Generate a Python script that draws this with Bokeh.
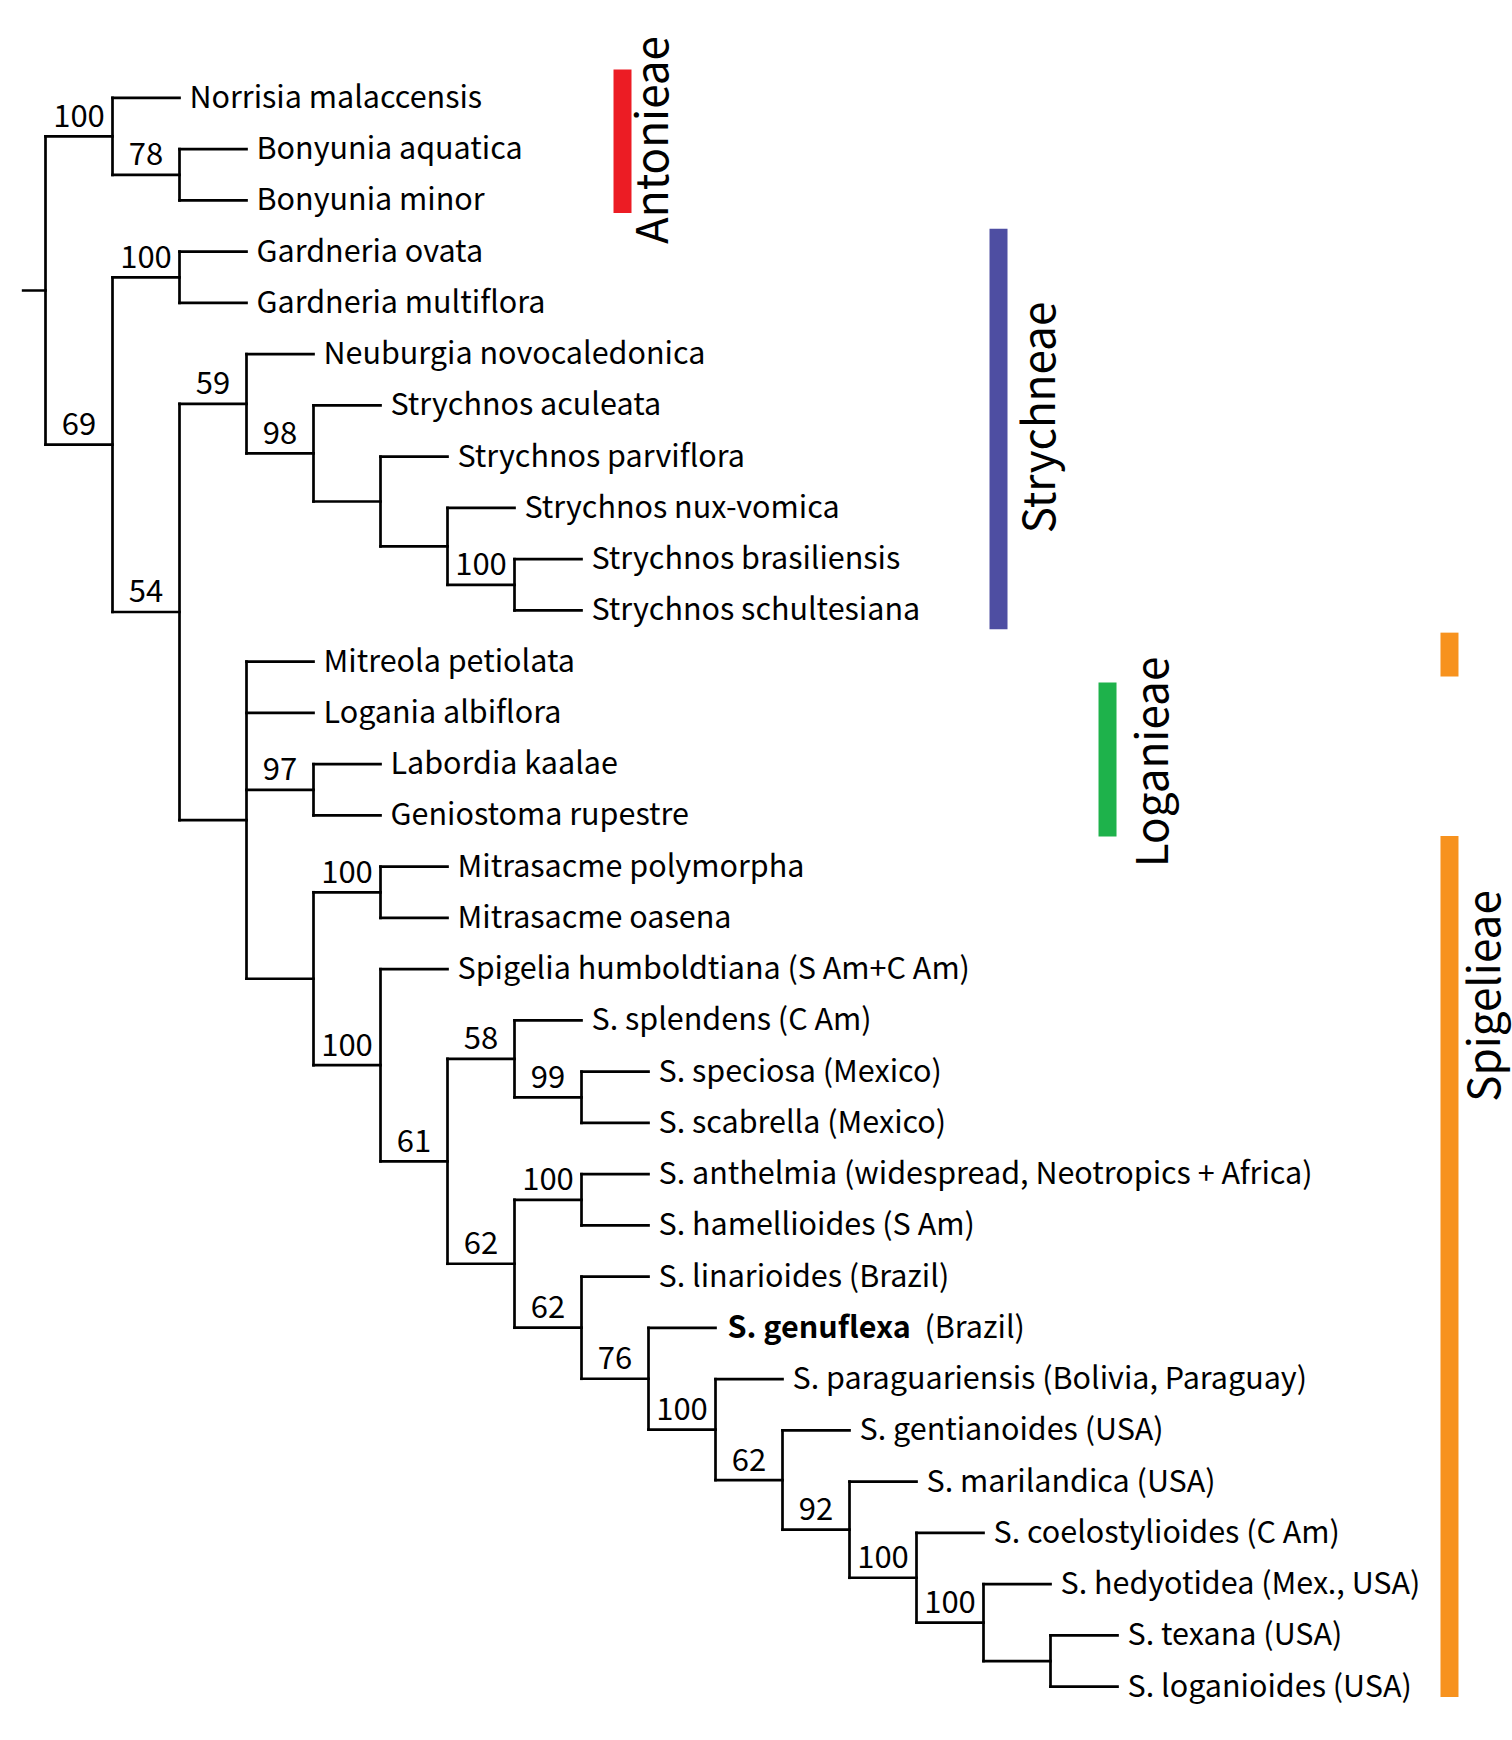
import math
from bokeh.plotting import figure
from bokeh.models import Range1d
from bokeh.core.properties import value
from bokeh.embed import file_html
from bokeh.resources import INLINE

# ---------------- data ----------------
TIPS = [
    "Norrisia malaccensis", "Bonyunia aquatica", "Bonyunia minor",
    "Gardneria ovata", "Gardneria multiflora",
    "Neuburgia novocaledonica", "Strychnos aculeata", "Strychnos parviflora",
    "Strychnos nux-vomica", "Strychnos brasiliensis", "Strychnos schultesiana",
    "Mitreola petiolata", "Logania albiflora", "Labordia kaalae", "Geniostoma rupestre",
    "Mitrasacme polymorpha", "Mitrasacme oasena",
    "Spigelia humboldtiana (S Am+C Am)", "S. splendens (C Am)", "S. speciosa (Mexico)",
    "S. scabrella (Mexico)", "S. anthelmia (widespread, Neotropics + Africa)",
    "S. hamellioides (S Am)", "S. linarioides (Brazil)", "S. genuflexa (Brazil)",
    "S. paraguariensis (Bolivia, Paraguay)", "S. gentianoides (USA)", "S. marilandica (USA)",
    "S. coelostylioides (C Am)", "S. hedyotidea (Mex., USA)", "S. texana (USA)",
    "S. loganioides (USA)",
]
HIGHLIGHT = "S. genuflexa"

# topology (tip indices) with bootstrap support after each clade
NEWICK = ("((0,(1,2)78)100,((3,4)100,((5,(6,(7,(8,(9,10)100)))98)59,"
          "(11,12,(13,14)97,((15,16)100,(17,((18,(19,20)99)58,((21,22)100,"
          "(23,(24,(25,(26,(27,(28,(29,(30,31))100)100)92)62)100)76)62)62)61)100)))54)69);")

TRIBE_NAMES = ["Antonieae", "Strychneae", "Loganieae", "Spigelieae"]
TRIBE_COLORS = ["#ec1c24", "#4e4ea2", "#1eb24b", "#f7921e"]
BAR_TRIBE = ["Antonieae", "Strychneae", "Loganieae", "Spigelieae", "Spigelieae"]
BAR_FIRST_TIP = [0, 3, 12, 11, 15]
BAR_LAST_TIP = [2, 10, 14, 11, 31]

# ---------------- layout / style ----------------
BAR_X = {"Antonieae": 8.612, "Strychneae": 14.224, "Loganieae": 15.851, "Spigelieae": 20.955}
BAR_PAD_TOP = [0.554, 0.449, 0.593, 0.566, 0.60]
BAR_PAD_BOTTOM = [0.246, 0.37, 0.41, 0.29, 0.20]
LABEL_DX = {"Antonieae": 0.393, "Strychneae": 0.557, "Loganieae": 0.616, "Spigelieae": 0.47}
LABEL_Y = {"Antonieae": 0.821, "Strychneae": 6.236, "Loganieae": 12.958, "Spigelieae": 17.524}

FONT = "Noto Sans CJK JP"
TIP_SIZE = "30.5px"
NUM_SIZE = "31px"
TRIBE_SIZE = "44px"


def parse(s):
    pos = 0

    def node():
        nonlocal pos
        if s[pos] == "(":
            pos += 1
            kids = [node()]
            while s[pos] == ",":
                pos += 1
                kids.append(node())
            pos += 1  # ')'
            lab = ""
            while pos < len(s) and s[pos] not in ",);":
                lab += s[pos]
                pos += 1
            return {"kids": kids, "support": lab}
        lab = ""
        while s[pos] not in ",);":
            lab += s[pos]
            pos += 1
        return {"tip": int(lab)}

    return node()


tree = parse(NEWICK)


def layout(n, depth):
    n["x"] = depth
    if "tip" in n:
        n["y"] = float(n["tip"])
    else:
        for k in n["kids"]:
            layout(k, depth + 1)
        n["y"] = (n["kids"][0]["y"] + n["kids"][-1]["y"]) / 2


layout(tree, 0)

x0s, y0s, x1s, y1s = [], [], [], []
sup_x, sup_y, sup_t = [], [], []
tip_x, tip_y, tip_t = [], [], []
hl_x, hl_y, hl_b, hl_r = [], [], [], []


def walk(n):
    if "tip" in n:
        name = TIPS[n["tip"]]
        if name.startswith(HIGHLIGHT):
            hl_x.append(n["x"]); hl_y.append(n["y"])
            hl_b.append(HIGHLIGHT); hl_r.append(name[len(HIGHLIGHT):].strip())
        else:
            tip_x.append(n["x"]); tip_y.append(n["y"]); tip_t.append(name)
        return
    kids = n["kids"]
    x0s.append(n["x"]); y0s.append(kids[0]["y"]); x1s.append(n["x"]); y1s.append(kids[-1]["y"])
    for k in kids:
        x0s.append(n["x"]); y0s.append(k["y"]); x1s.append(k["x"]); y1s.append(k["y"])
        walk(k)
    if n["support"]:
        sup_x.append(n["x"] - 0.5); sup_y.append(n["y"]); sup_t.append(n["support"])


walk(tree)
# root stub
x0s.append(-1 / 3); y0s.append(tree["y"]); x1s.append(0); y1s.append(tree["y"])

p = figure(width=1512, height=1738,
           x_range=Range1d(-0.67164, 21.8955), y_range=Range1d(32.0117, -1.90049),
           output_backend="svg", toolbar_location=None, min_border=0,
           x_axis_location=None, y_axis_location=None)
p.grid.visible = False
p.outline_line_color = None
p.background_fill_color = "white"
p.border_fill_color = "white"

p.segment(x0=x0s, y0=y0s, x1=x1s, y1=y1s, line_color="black", line_width=2.7,
          line_cap="square")

p.text(x=tip_x, y=tip_y, text=tip_t, x_offset=10, y_offset=-3,
       text_font=value(FONT), text_font_size=TIP_SIZE, text_color="black",
       text_baseline="middle", text_align="left")
p.text(x=hl_x, y=hl_y, text=hl_b, x_offset=12, y_offset=-3,
       text_font=value(FONT), text_font_size=TIP_SIZE, text_font_style="bold",
       text_color="black", text_baseline="middle", text_align="left")
p.text(x=hl_x, y=hl_y, text=hl_r, x_offset=209, y_offset=-3,
       text_font=value(FONT), text_font_size=TIP_SIZE, text_color="black",
       text_baseline="middle", text_align="left")

p.text(x=sup_x, y=sup_y, text=sup_t, y_offset=-21,
       text_font=value(FONT), text_font_size=NUM_SIZE, text_color="black",
       text_baseline="middle", text_align="center")

# tribe bars
bx, by0, by1, bc = [], [], [], []
for t, a, b, pt, pb in zip(BAR_TRIBE, BAR_FIRST_TIP, BAR_LAST_TIP, BAR_PAD_TOP, BAR_PAD_BOTTOM):
    bx.append(BAR_X[t]); by0.append(a - pt); by1.append(b + pb)
    bc.append(TRIBE_COLORS[TRIBE_NAMES.index(t)])
p.segment(x0=bx, y0=by0, x1=bx, y1=by1, line_color=bc, line_width=18, line_cap="butt")

p.text(x=[BAR_X[t] + LABEL_DX[t] for t in TRIBE_NAMES], y=[LABEL_Y[t] for t in TRIBE_NAMES],
       text=TRIBE_NAMES, angle=math.pi / 2,
       text_font=value(FONT), text_font_size=TRIBE_SIZE, text_color="black",
       text_baseline="middle", text_align="center")

open("out.html", "w").write(file_html(p, INLINE))
